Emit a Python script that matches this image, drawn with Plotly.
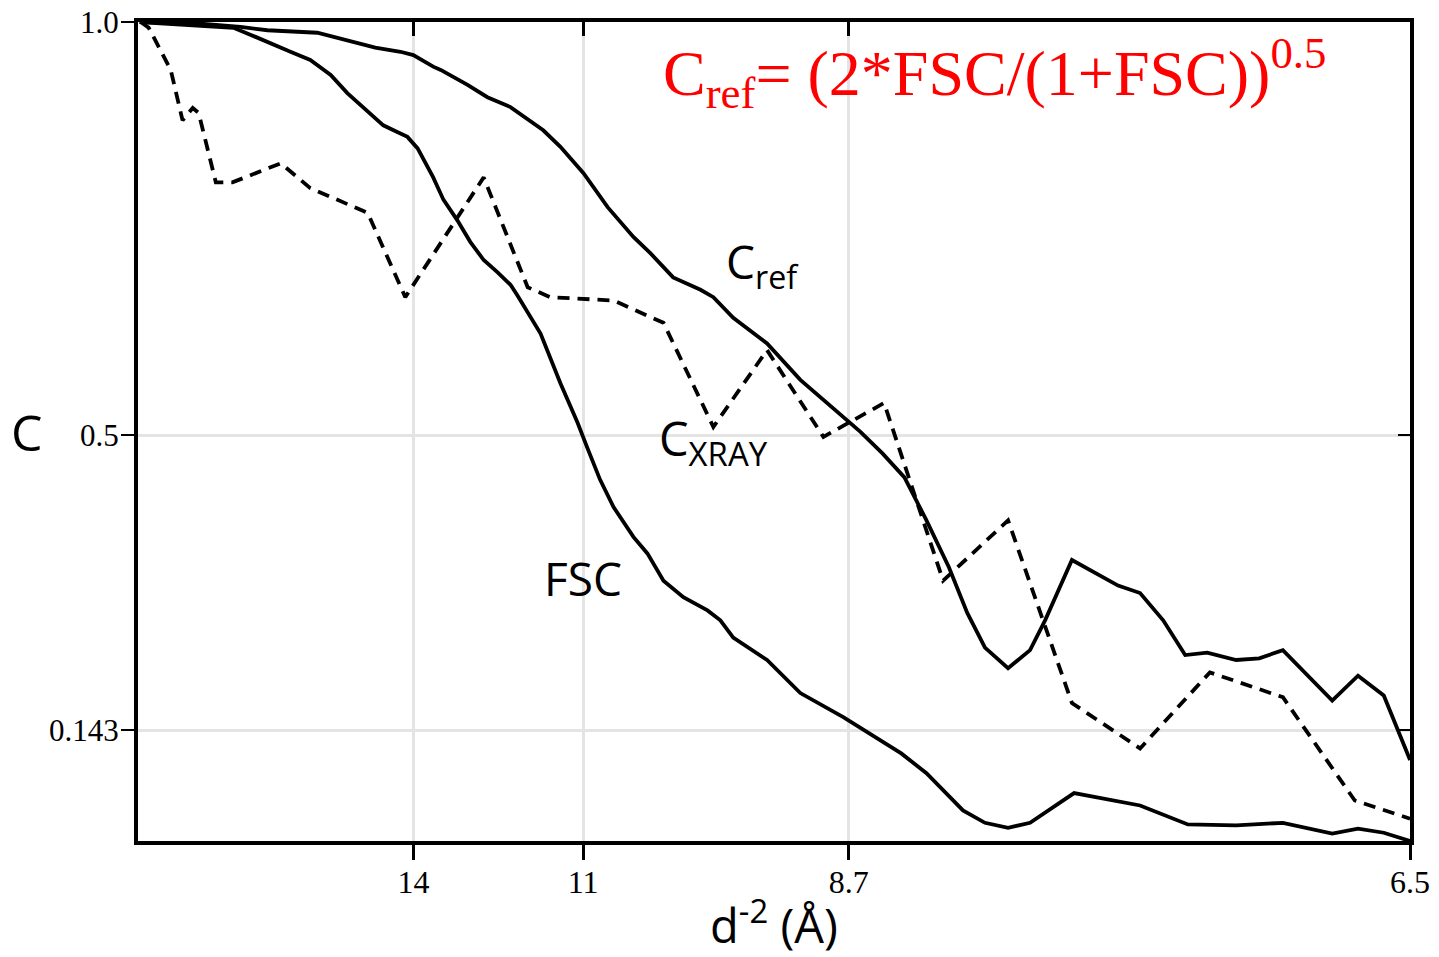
import plotly.graph_objects as go

# x values: spatial frequency d^-2 in units of 1e-3 Å^-2
tick_resolutions = ["14", "11", "8.7", "6.5"]
tick_positions = [1000 / 14**2, 1000 / 11**2, 1000 / 8.7**2, 1000 / 6.5**2]
y_tick_vals = [0.143, 0.5, 1.0]
y_tick_text = ["0.143", "0.5", "1.0"]

cref_x = [0, 1.14, 1.88, 2.38, 3.31, 3.93, 4.39, 4.86, 5.10, 5.47, 5.61, 6.11, 6.48, 6.91,
          7.52, 7.84, 8.27, 8.72, 9.20, 9.52, 9.94, 10.45, 10.69, 11.06, 11.69, 12.31,
          13.11, 13.43, 13.84, 14.25, 14.66, 15.08, 15.42, 15.75, 16.18, 16.59, 16.87,
          17.37, 18.23, 18.64, 19.07, 19.48, 19.89, 20.43, 20.86, 21.30, 22.22, 22.70,
          23.18, 23.67]
cref_y = [1.000, 0.998, 0.994, 0.990, 0.987, 0.976, 0.969, 0.964, 0.960, 0.946, 0.942,
          0.924, 0.909, 0.897, 0.869, 0.849, 0.817, 0.776, 0.740, 0.720, 0.691, 0.676,
          0.667, 0.642, 0.611, 0.567, 0.522, 0.504, 0.478, 0.449, 0.397, 0.340, 0.285,
          0.243, 0.218, 0.240, 0.276, 0.349, 0.318, 0.309, 0.276, 0.234, 0.237, 0.228,
          0.230, 0.240, 0.179, 0.209, 0.185, 0.107]

fsc_x = [0, 1.14, 1.75, 2.16, 2.50, 2.81, 3.18, 3.56, 3.87, 4.25, 4.54, 4.80, 4.99, 5.18,
         5.47, 5.66, 5.92, 6.16, 6.41, 6.67, 6.91, 7.04, 7.47, 7.84, 8.16, 8.34, 8.58,
         8.83, 9.20, 9.46, 9.76, 10.13, 10.58, 10.82, 11.06, 11.69, 12.31, 13.11, 13.43,
         14.19, 14.66, 15.34, 15.75, 16.18, 16.59, 17.41, 18.64, 19.53, 20.43, 21.30,
         22.22, 22.70, 23.18, 23.67]
fsc_y = [1.000, 0.996, 0.993, 0.982, 0.972, 0.964, 0.954, 0.936, 0.914, 0.891, 0.875,
         0.867, 0.861, 0.847, 0.812, 0.785, 0.760, 0.734, 0.712, 0.697, 0.682, 0.669,
         0.623, 0.563, 0.515, 0.485, 0.446, 0.413, 0.377, 0.357, 0.324, 0.304, 0.288,
         0.276, 0.255, 0.228, 0.188, 0.159, 0.146, 0.115, 0.091, 0.046, 0.031, 0.025,
         0.031, 0.067, 0.052, 0.029, 0.028, 0.031, 0.018, 0.024, 0.019, 0.009]

cxray_x = [0.02, 0.17, 0.58, 0.80, 0.99, 1.10, 1.42, 1.73, 2.63, 3.18, 4.25, 4.95, 6.41,
           7.23, 7.65, 8.83, 9.76, 10.69, 11.69, 12.74, 13.87, 14.97, 16.18, 16.87, 17.37,
           18.64, 19.94, 21.30, 22.64, 23.67]
cxray_y = [1.000, 0.993, 0.942, 0.881, 0.896, 0.890, 0.806, 0.806, 0.829, 0.799, 0.769,
           0.667, 0.812, 0.679, 0.667, 0.663, 0.636, 0.510, 0.603, 0.498, 0.539, 0.324,
           0.397, 0.270, 0.176, 0.121, 0.213, 0.183, 0.058, 0.036]

X_RANGE = [-0.03, 1000 / 6.5**2]
Y_RANGE = [0.009, 1.0]

line_style = dict(color="black", width=3.8)

fig = go.Figure()
fig.add_trace(go.Scatter(x=cref_x, y=cref_y, mode="lines", line=line_style,
                         name="Cref", showlegend=False))
fig.add_trace(go.Scatter(x=fsc_x, y=fsc_y, mode="lines", line=line_style,
                         name="FSC", showlegend=False))
fig.add_trace(go.Scatter(x=cxray_x, y=cxray_y, mode="lines",
                         line=dict(color="black", width=3.8, dash="12px,8px"),
                         name="CXRAY", showlegend=False))
# helper trace for the mirrored (inside) ticks on top/right
fig.add_trace(go.Scatter(x=[], y=[], xaxis="x2", yaxis="y2", showlegend=False,
                         hoverinfo="skip"))

serif = "Liberation Serif"
sans = "Open Sans"

# the page body has an 8px default margin, so the figure is 8px smaller
fig.update_layout(
    width=1431, height=949,
    margin=dict(l=130, r=29, t=14, b=116, autoexpand=False),
    paper_bgcolor="white", plot_bgcolor="white",
    xaxis=dict(
        range=X_RANGE, tickvals=tick_positions, ticktext=tick_resolutions,
        ticks="outside", ticklen=15, tickwidth=3, tickcolor="black",
        showline=True, linecolor="black", linewidth=4, mirror=True,
        showgrid=True, gridcolor="#e4e4e4", gridwidth=3, zeroline=False,
        tickfont=dict(family=serif, size=32, color="black"),
        ticklabelstandoff=-5, ticklabeloverflow="allow", automargin=False,
        title=dict(text="d<sup>-2</sup> (Å)", font=dict(family=sans, size=47, color="black"),
                   standoff=7),
    ),
    yaxis=dict(
        range=Y_RANGE, tickvals=y_tick_vals, ticktext=y_tick_text,
        ticks="outside", ticklen=13, tickwidth=2, tickcolor="black",
        showline=True, linecolor="black", linewidth=4, mirror=True,
        showgrid=True, gridcolor="#e4e4e4", gridwidth=3, zeroline=False,
        tickfont=dict(family=serif, size=31, color="black"),
        ticklabelstandoff=-4, ticklabeloverflow="allow", automargin=False,
    ),
    xaxis2=dict(
        range=X_RANGE, overlaying="x", side="top", tickvals=tick_positions,
        ticks="inside", ticklen=14, tickwidth=3, tickcolor="black",
        showticklabels=False, showgrid=False, showline=False, zeroline=False,
        automargin=False,
    ),
    yaxis2=dict(
        range=Y_RANGE, overlaying="y", side="right", tickvals=y_tick_vals,
        ticks="inside", ticklen=12, tickwidth=2, tickcolor="black",
        showticklabels=False, showgrid=False, showline=False, zeroline=False,
        automargin=False,
    ),
    showlegend=False,
)

anno_font = dict(family=sans, size=46, color="black")
fig.add_annotation(xref="paper", yref="paper", x=0.461, y=0.705, xanchor="left",
                   yanchor="middle", text="C<sub>ref</sub>", showarrow=False, font=anno_font)
fig.add_annotation(xref="paper", yref="paper", x=0.408, y=0.4884, xanchor="left",
                   yanchor="middle", text="C<sub>XRAY</sub>", showarrow=False,
                   font=dict(family=sans, size=47, color="black"))
fig.add_annotation(xref="paper", yref="paper", x=0.318, y=0.321, xanchor="left",
                   yanchor="middle", text="FSC", showarrow=False, font=anno_font)
fig.add_annotation(xref="paper", yref="paper", x=-0.0873, y=0.4994, xanchor="center",
                   yanchor="middle", text="C", showarrow=False,
                   font=dict(family=sans, size=50, color="black"))
fig.add_annotation(xref="paper", yref="paper", x=0.411, y=0.938, xanchor="left",
                   yanchor="middle", text="C<sub>ref</sub>= (2*FSC/(1+FSC))<sup>0.5</sup>",
                   showarrow=False, font=dict(family=serif, size=64, color="#ff0000"))

fig.write_html("out.html")
